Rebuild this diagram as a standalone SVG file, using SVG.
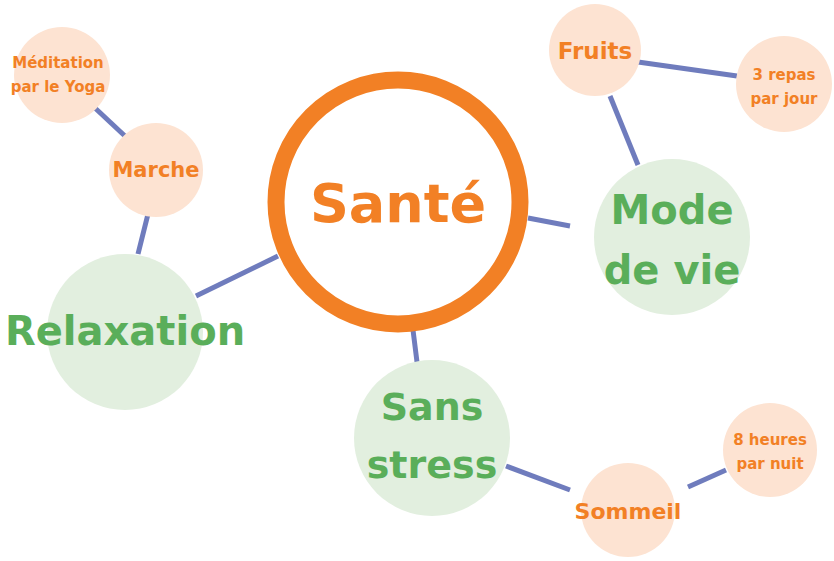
<svg xmlns="http://www.w3.org/2000/svg" width="834" height="561" viewBox="0 0 834 561">
<style>
.c{stroke:#6f7cbd;stroke-width:5;fill:none}
.g{fill:#e2efdf}
.p{fill:#fde3d2}
text{font-family:"DejaVu Sans",sans-serif;font-weight:bold;text-anchor:middle}
.gt{fill:#5aae5a}
.ot{fill:#f28025}
</style>
<rect width="834" height="561" fill="#fff"/>
<g id="connectors">
<line class="c" x1="528" y1="218" x2="570" y2="226"/>
<line class="c" x1="278" y1="256" x2="196" y2="296"/>
<line class="c" x1="413" y1="330" x2="417" y2="362"/>
<line class="c" x1="638" y1="165" x2="610" y2="96"/>
<line class="c" x1="638" y1="62" x2="737" y2="76"/>
<line class="c" x1="148" y1="214" x2="138" y2="254"/>
<line class="c" x1="126" y1="137" x2="95" y2="108"/>
<line class="c" x1="506" y1="466" x2="570" y2="490"/>
<line class="c" x1="688" y1="487" x2="726" y2="470"/>
</g>
<g id="sante"><circle cx="398" cy="202" r="122" fill="#fff" stroke="#f28025" stroke-width="17"/><text x="398" y="222" font-size="54" class="ot">Santé</text></g>
<g id="mode"><circle class="g" cx="672" cy="237" r="78"/><text x="672" y="224" font-size="40" class="gt">Mode</text><text x="672" y="284" font-size="40" class="gt">de vie</text></g>
<g id="relax"><circle class="g" cx="125" cy="332" r="78"/><text x="125" y="345" font-size="40" class="gt">Relaxation</text></g>
<g id="sans"><circle class="g" cx="432" cy="438" r="78"/><text x="432" y="420" font-size="38" class="gt">Sans</text><text x="432" y="478" font-size="38" class="gt">stress</text></g>
<g id="fruits"><circle class="p" cx="595" cy="50" r="46"/><text x="595" y="59" font-size="23" class="ot">Fruits</text></g>
<g id="repas"><circle class="p" cx="784" cy="84" r="48"/><text x="784" y="80" font-size="15" class="ot">3 repas</text><text x="784" y="104" font-size="15" class="ot">par jour</text></g>
<g id="marche"><circle class="p" cx="156" cy="170" r="47"/><text x="156" y="177" font-size="21" class="ot">Marche</text></g>
<g id="meditation"><circle class="p" cx="62" cy="75" r="48"/><text x="58" y="68" font-size="15" class="ot">Méditation</text><text x="58" y="92" font-size="15" class="ot">par le Yoga</text></g>
<g id="sommeil"><circle class="p" cx="628" cy="510" r="47"/><text x="628" y="519" font-size="22" class="ot">Sommeil</text></g>
<g id="heures"><circle class="p" cx="770" cy="450" r="47"/><text x="770" y="445" font-size="15" class="ot">8 heures</text><text x="770" y="469" font-size="15" class="ot">par nuit</text></g>
</svg>
